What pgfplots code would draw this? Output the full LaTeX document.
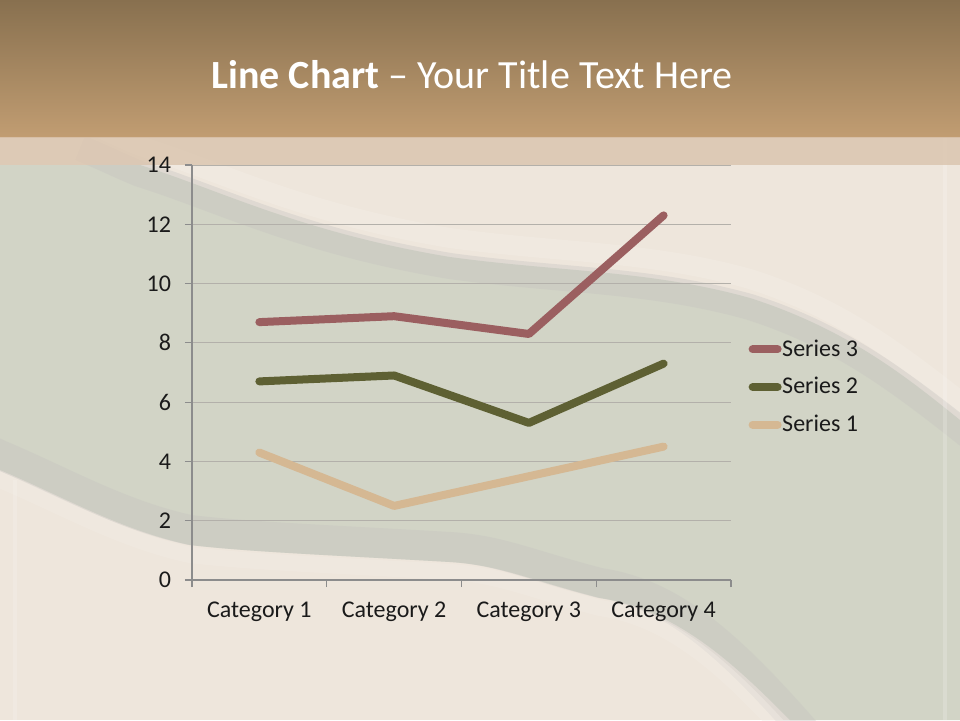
\documentclass[border=0pt]{standalone}
\usepackage{pgfplots}
\pgfplotsset{compat=1.18}
\usepackage{fontspec}
\setmainfont{Carlito}
\definecolor{bgbeige}{HTML}{EEE6DC}
\definecolor{bggreen}{HTML}{D2D4C6}
\definecolor{bandgray}{HTML}{C4C2C0}
\definecolor{creamband}{HTML}{F2ECE4}
\definecolor{headtop}{HTML}{88704F}
\definecolor{headbot}{HTML}{C19D72}
\definecolor{strip}{HTML}{DBC6B0}
\definecolor{sthree}{HTML}{9B5F60}
\definecolor{stwo}{HTML}{5E6033}
\definecolor{sone}{HTML}{D5B893}
\definecolor{axisgray}{HTML}{8C8C8C}
\definecolor{gridgray}{HTML}{B3B0AA}
\definecolor{labelcol}{HTML}{1A1A1A}
\begin{document}
\begin{tikzpicture}[x=0.5pt,y=-0.5pt]
\useasboundingbox (0,0) rectangle (960,720);
\fill[bgbeige] (0,0) rectangle (960,720);
\begin{scope}
\clip (0,0) rectangle (960,720);
% green region
\fill[bggreen] (0,165) -- (140,165)
  .. controls (220,190) and (300,232) .. (450,257)
  .. controls (560,272) and (650,270) .. (750,298)
  .. controls (850,330) and (910,380) .. (960,420)
  -- (960,720) -- (790,720)
  .. controls (740,670) and (680,610) .. (600,598)
  .. controls (530,580) and (500,565) .. (450,562)
  .. controls (330,555) and (250,552) .. (190,545)
  .. controls (120,530) and (60,495) .. (0,470) -- cycle;
% upper band
\draw[creamband, line width=10pt, opacity=0.5] (80,120) .. controls (105,130) and (120,138) .. (140,146)
  .. controls (220,171) and (300,213) .. (450,238)
  .. controls (560,253) and (650,251) .. (750,279)
  .. controls (850,311) and (910,361) .. (1010,441);
\draw[bandgray, line width=13pt, opacity=0.35] (80,148) .. controls (105,158) and (120,166) .. (140,174)
  .. controls (220,199) and (300,241) .. (450,266)
  .. controls (560,281) and (650,279) .. (750,307)
  .. controls (850,339) and (910,389) .. (1010,469);
% lower band
\draw[bandgray, line width=15pt, opacity=0.35] (-60,430) .. controls (-30,440) and (-15,448) .. (0,455)
  .. controls (60,480) and (120,515) .. (190,530)
  .. controls (250,537) and (330,540) .. (450,547)
  .. controls (500,550) and (530,565) .. (600,583)
  .. controls (680,595) and (740,655) .. (830,760);
\draw[creamband, line width=8pt, opacity=0.45] (-60,455) .. controls (-30,465) and (-15,473) .. (0,480)
  .. controls (60,505) and (120,540) .. (190,555)
  .. controls (250,562) and (330,565) .. (450,572)
  .. controls (500,575) and (530,590) .. (600,608)
  .. controls (680,620) and (740,680) .. (830,785);
\end{scope}
% faint verticals
\draw[white, opacity=0.18, line width=2pt] (945,137) -- (945,720);
\draw[white, opacity=0.15, line width=2pt] (15,480) -- (15,720);
% header
\shade[top color=headtop, bottom color=headbot] (0,0) rectangle (960,137);
\fill[strip, opacity=0.85] (0,137) rectangle (960,165);
\node[text=white, font=\fontsize{20}{24}\selectfont] at (472,75) {\textbf{Line Chart} – Your Title Text Here};
\begin{axis}[
  at={(96pt,-290pt)}, anchor=south west,
  scale only axis, width=269.5pt, height=207.5pt,
  xmin=0.5, xmax=4.5, ymin=0, ymax=14,
  ytick={0,2,...,14},
  xtick={1,2,3,4},
  xticklabels={Category 1,Category 2,Category 3,Category 4},
  minor xtick={0.5,1.5,2.5,3.5,4.5},
  axis x line*=bottom, axis y line*=left,
  axis line style={draw=axisgray, line width=0.6pt, -},
  ymajorgrids, grid style={gridgray, line width=0.5pt},
  major x tick style={draw=none},
  tick align=outside,
  major tick length=3.5pt, minor tick length=3.5pt,
  tick style={axisgray, line width=0.6pt},
  ticklabel style={font=\fontsize{12}{14}\selectfont, text=labelcol},
  yticklabel style={xshift=-3.5pt},
  xticklabel style={yshift=-4pt},
  /pgf/number format/assume math mode=true,
  clip=false,
  legend style={at={(1.032,0.465)}, anchor=west, draw=none, fill=none,
    font=\fontsize{12}{14}\selectfont, text=labelcol, row sep=8.5pt,
    inner sep=0pt, nodes={inner sep=0.3pt}},
  legend cell align=left,
  legend image code/.code={\draw[#1, line width=4pt, line cap=round] (0pt,0pt) -- (12.5pt,0pt);},
  reverse legend,
]
\addplot[sone, line width=4pt, line cap=round, line join=round] coordinates {(1,4.3) (2,2.5) (3,3.5) (4,4.5)};
\addlegendentry{Series 1}
\addplot[stwo, line width=4pt, line cap=round, line join=round] coordinates {(1,6.7) (2,6.9) (3,5.3) (4,7.3)};
\addlegendentry{Series 2}
\addplot[sthree, line width=4pt, line cap=round, line join=round] coordinates {(1,8.7) (2,8.9) (3,8.3) (4,12.3)};
\addlegendentry{Series 3}
\end{axis}
\end{tikzpicture}
\end{document}
